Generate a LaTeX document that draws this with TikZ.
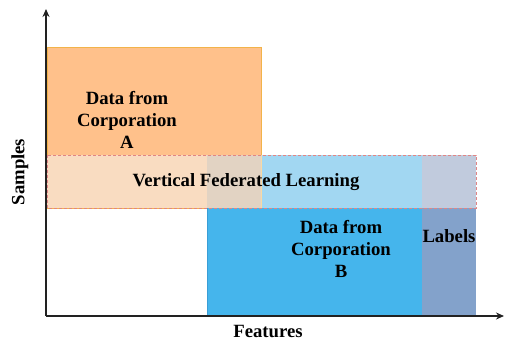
\documentclass[tikz,border=0pt]{standalone}
\usepackage{fontspec}
\setmainfont{Liberation Serif}
\usetikzlibrary{arrows.meta}
\definecolor{orgfill}{HTML}{FFC18B}
\definecolor{orgline}{HTML}{F2B34A}
\definecolor{bluefill}{HTML}{45B5EC}
\definecolor{blueline}{HTML}{3A9ED6}
\definecolor{labfill}{HTML}{83A2CB}
\definecolor{bandA}{HTML}{F9DCC1}
\definecolor{bandAB}{HTML}{E2D3C3}
\definecolor{bandB}{HTML}{A2D7F2}
\definecolor{bandL}{HTML}{C1CBDD}
\definecolor{bandline}{HTML}{E08585}
\definecolor{axiscol}{HTML}{222222}
\tikzset{
  txt/.style={font=\fontsize{18.7}{22}\selectfont\bfseries, align=center, text=black, inner sep=0pt},
  axisline/.style={draw=axiscol, line width=1.6pt, -{Stealth[length=8pt,width=7pt]}},
}
\begin{document}
\begin{tikzpicture}[x=1pt,y=-1pt]
\useasboundingbox (0,0) rectangle (506,342);
% base rectangles
\draw[fill=orgfill, draw=orgline, line width=0.8pt] (47,47) rectangle (261,208);
\draw[fill=bluefill, draw=blueline, line width=0.6pt] (207,155) rectangle (422,316);
\fill[labfill] (422,155) rectangle (476,316);
% band
\fill[bandA] (47,155) rectangle (207,208);
\fill[bandAB] (207,155) rectangle (261,208);
\fill[bandB] (261,155) rectangle (422,208);
\fill[bandL] (422,155) rectangle (476,208);
\draw[orgline!50!white, line width=0.6pt] (261,155) -- (261,208);
\draw[bandline, dashed, dash pattern=on 3pt off 2pt, line width=0.7pt] (47,155) rectangle (476,208);
% axes
\coordinate (o) at (46,316);
\coordinate (ytop) at (46,9);
\coordinate (xend) at (504,316);
\draw[axisline] (o) -- (ytop);
\draw[axisline] (o) -- (xend);
% texts
\node[txt] (a) at (127,120) {Data from\\Corporation\\A};
\node[txt] (vfl) at (246,182) {Vertical Federated Learning};
\node[txt] (b) at (341,249) {Data from\\Corporation\\B};
\node[txt] (lab) at (449,236) {Labels};
\node[txt] (feat) at (268,331) {Features};
\node[txt, rotate=90] (samp) at (20,172) {Samples};
\end{tikzpicture}
\end{document}
